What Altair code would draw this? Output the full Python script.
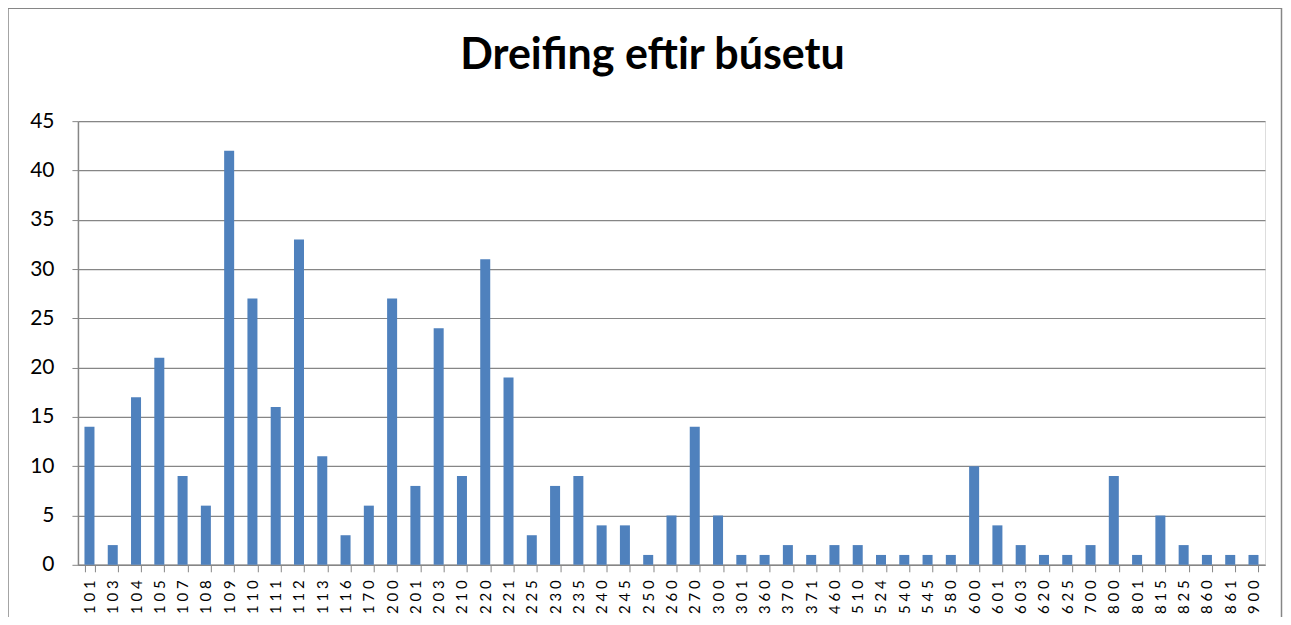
import altair as alt
import pandas as pd

categories = ["101","103","104","105","107","108","109","110","111","112","113","116","170",
              "200","201","203","210","220","221","225","230","235","240","245","250","260",
              "270","300","301","360","370","371","460","510","524","540","545","580","600",
              "601","603","620","625","700","800","801","815","825","860","861","900"]
values = [14,2,17,21,9,6,42,27,16,33,11,3,6,27,8,24,9,31,19,3,8,9,4,4,1,5,14,5,1,1,2,1,
          2,2,1,1,1,1,10,4,2,1,1,2,9,1,5,2,1,1,1]
title_text = ["Dreifing eftir búsetu"]

df = pd.DataFrame({"cat": categories, "val": values})

FONT = "Lato"
GRAY = "#868686"

bars = alt.Chart(df).mark_bar(color="#4F81BD").encode(
    x=alt.X("cat:N", sort=categories, title=None,
            scale=alt.Scale(paddingInner=0.57, paddingOuter=0.28),
            axis=alt.Axis(labelAngle=-90, labelAlign="right", labelBaseline="middle",
                          labelFontSize=15, labelFont=FONT, labelColor="#000000",
                          labelPadding=8, tickBand="extent", tickSize=7,
                          tickColor=GRAY, domainColor=GRAY, domainWidth=1.5,
                          labelExpr="join(split(datum.label, ''), ' ')")),
    y=alt.Y("val:Q", title=None,
            scale=alt.Scale(domain=[0, 45], nice=False),
            axis=alt.Axis(values=list(range(0, 46, 5)), labelFontSize=21, labelFont=FONT,
                          labelColor="#000000", labelPadding=18, tickSize=6,
                          tickColor=GRAY, domainColor=GRAY, domainWidth=1.5,
                          gridColor=GRAY, gridWidth=1.2))
)

border = alt.Chart(pd.DataFrame({"a": [0]})).mark_rect(
    fill=None, stroke=GRAY, strokeWidth=1.5
).encode(
    x=alt.value(-70), x2=alt.value(1204.5), y=alt.value(-113), y2=alt.value(560)
)

title = alt.Chart(pd.DataFrame({"t": title_text})).mark_text(
    font=FONT, fontSize=43, fontWeight="bold", color="#000000",
    align="center", baseline="alphabetic"
).encode(text="t:N", x=alt.value(575), y=alt.value(-52))

chart = alt.layer(bars, border, title).properties(
    width=1188, height=444,
    autosize=alt.AutoSizeParams(type="none"),
    padding={"left": 70, "top": 113, "right": 18, "bottom": 52},
).configure_view(stroke=None).configure(background="white")

chart.save("out.html", embed_options={"renderer": "svg", "actions": False})
